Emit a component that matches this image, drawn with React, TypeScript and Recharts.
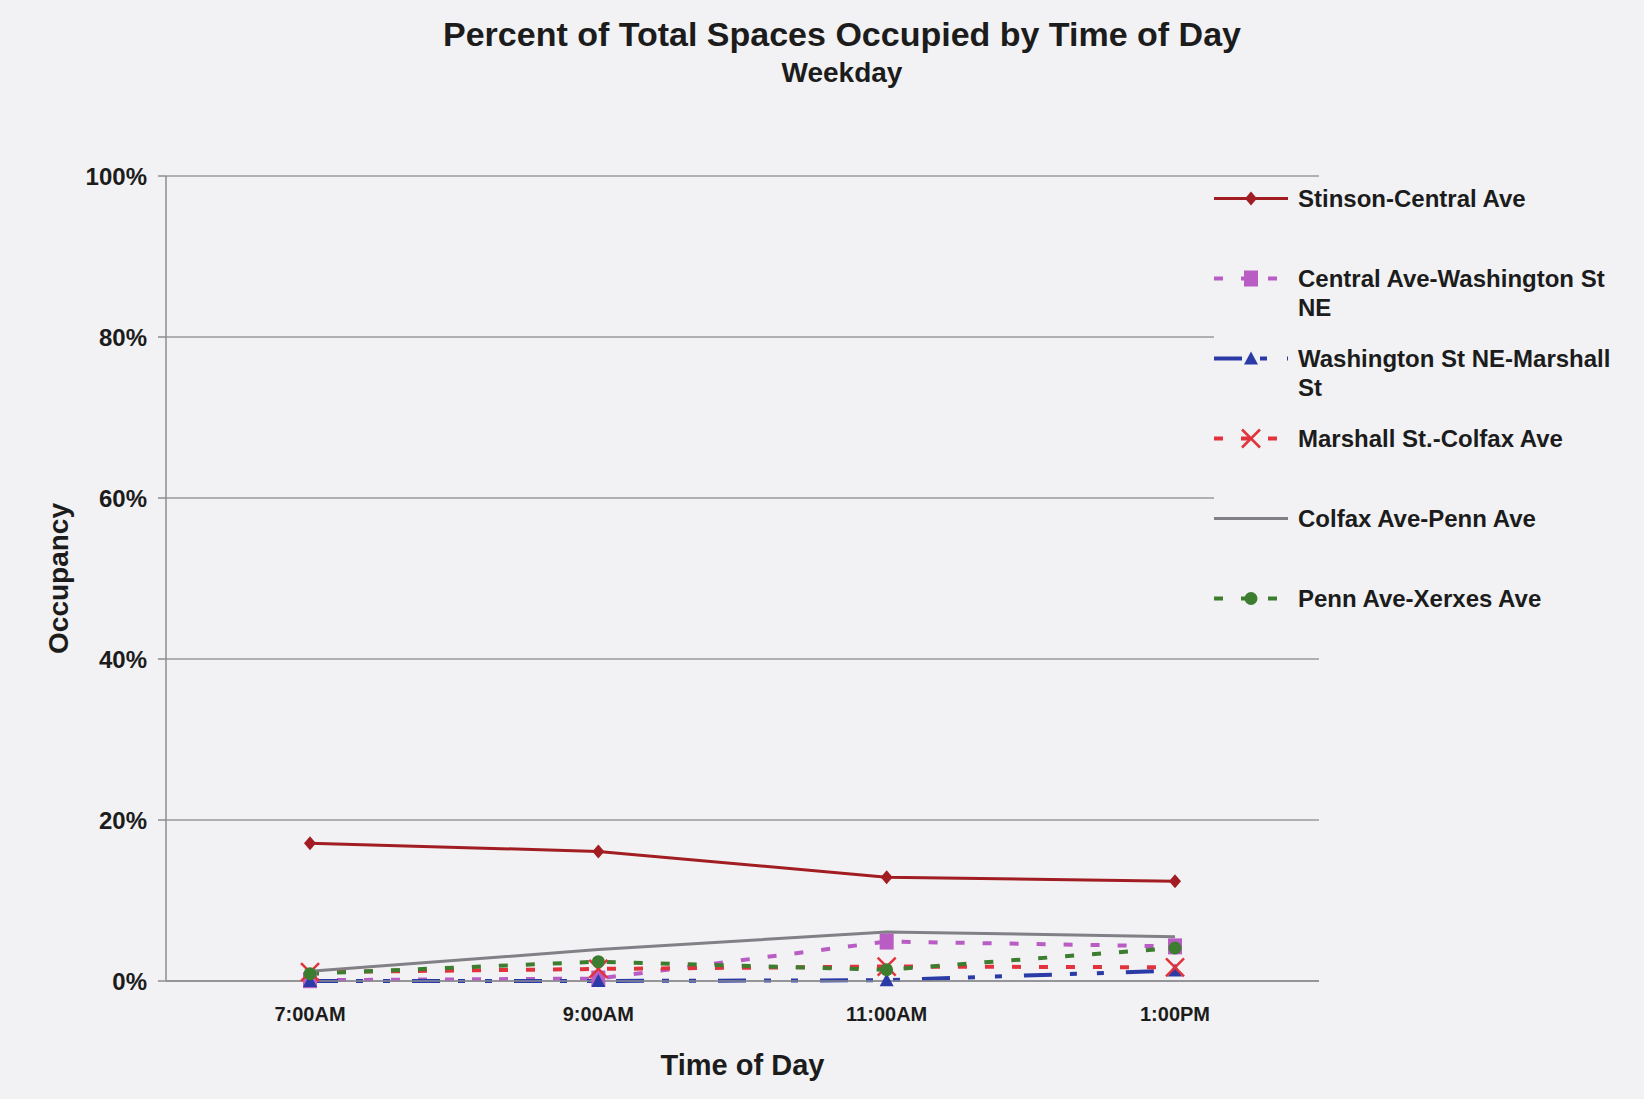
import { LineChart, Line, XAxis, YAxis, CartesianGrid, Legend, Label } from "recharts";

const times = ["7:00AM", "9:00AM", "11:00AM", "1:00PM"];
const stinsonCentral = [17.1, 16.1, 12.9, 12.4];
const centralWashington = [0.1, 0.3, 4.9, 4.3];
const washingtonMarshall = [0, 0, 0.1, 1.3];
const marshallColfax = [1.1, 1.5, 1.8, 1.7];
const colfaxPenn = [1.2, 3.9, 6.1, 5.5];
const pennXerxes = [0.9, 2.4, 1.4, 4.1];
const yTicks = [0, 20, 40, 60, 80, 100];
const edgeTicks = [0, 1, 2, 3, 4];

const chartData = times.map((time, i) => ({
  time,
  stinson: stinsonCentral[i],
  centralWash: centralWashington[i],
  washMarshall: washingtonMarshall[i],
  marshallColfax: marshallColfax[i],
  colfaxPenn: colfaxPenn[i],
  pennXerxes: pennXerxes[i],
}));

type MarkerKind = "diamond" | "square" | "triangle" | "cross" | "circle" | "none";

const series: {
  key: string;
  name: string;
  color: string;
  width: number;
  dash?: string;
  marker: MarkerKind;
}[] = [
  { key: "stinson", name: "Stinson-Central Ave", color: "#a11d22", width: 3, marker: "diamond" },
  { key: "centralWash", name: "Central Ave-Washington St NE", color: "#b95cc4", width: 4, dash: "9 18", marker: "square" },
  { key: "washMarshall", name: "Washington St NE-Marshall St", color: "#2a3aa6", width: 4, dash: "28 18 7 20 7 22", marker: "triangle" },
  { key: "marshallColfax", name: "Marshall St.-Colfax Ave", color: "#e2333c", width: 4, dash: "9 18", marker: "cross" },
  { key: "colfaxPenn", name: "Colfax Ave-Penn Ave", color: "#808086", width: 3, marker: "none" },
  { key: "pennXerxes", name: "Penn Ave-Xerxes Ave", color: "#3d7d30", width: 4, dash: "9 18", marker: "circle" },
];

const FONT = '"Liberation Sans", Arial, Helvetica, sans-serif';
const TEXT = "#1c1c1c";
const BG = "#f2f2f4";
const AXIS = "#8c8c90";

function Marker({ kind, cx, cy, color }: { kind: MarkerKind; cx: number; cy: number; color: string }) {
  switch (kind) {
    case "diamond":
      return <path d={`M${cx} ${cy - 7}L${cx + 6} ${cy}L${cx} ${cy + 7}L${cx - 6} ${cy}Z`} fill={color} />;
    case "square":
      return <rect x={cx - 7} y={cy - 8} width={14} height={16} fill={color} />;
    case "triangle":
      return <path d={`M${cx} ${cy - 7}L${cx + 7} ${cy + 6}L${cx - 7} ${cy + 6}Z`} fill={color} />;
    case "cross":
      return (
        <path
          d={`M${cx - 9} ${cy - 9}L${cx + 9} ${cy + 9}M${cx + 9} ${cy - 9}L${cx - 9} ${cy + 9}`}
          stroke={color}
          strokeWidth={2.5}
        />
      );
    case "circle":
      return <circle cx={cx} cy={cy} r={6.5} fill={color} />;
    default:
      return null;
  }
}

const LegendBox = () => (
  <div style={{ background: BG, width: 430, height: 440, fontFamily: FONT }}>
    {series.map((s) => (
      <div key={s.key} style={{ display: "flex", height: 80, alignItems: "flex-start" }}>
        <svg width={84} height={29} style={{ flex: "none" }}>
          <line x1={0} y1={14.5} x2={74} y2={14.5} stroke={s.color} strokeWidth={s.width} strokeDasharray={s.dash} />
          <Marker kind={s.marker} cx={37} cy={14.5} color={s.color} />
        </svg>
        <div
          style={{
            width: 322,
            fontSize: 24,
            lineHeight: "29px",
            fontWeight: 700,
            color: TEXT,
          }}
        >
          {s.name}
        </div>
      </div>
    ))}
  </div>
);

export default function App() {
  return (
    <div
      style={{
        position: "absolute",
        left: 0,
        top: 0,
        width: 1644,
        height: 1099,
        background: BG,
        fontFamily: FONT,
        color: TEXT,
      }}
    >
      <div
        style={{
          position: "absolute",
          left: 0,
          width: 1684,
          top: 14,
          textAlign: "center",
          fontSize: 34,
          fontWeight: 700,
          lineHeight: "40px",
        }}
      >
        Percent of Total Spaces Occupied by Time of Day
      </div>
      <div
        style={{
          position: "absolute",
          left: 0,
          width: 1684,
          top: 56,
          textAlign: "center",
          fontSize: 28,
          fontWeight: 700,
          lineHeight: "34px",
        }}
      >
        Weekday
      </div>
      <LineChart
        width={1644}
        height={1099}
        data={chartData}
        margin={{ top: 176, right: 325, bottom: 18, left: 36 }}
      >
        <CartesianGrid vertical={false} stroke="#9a9a9e" strokeWidth={1.5} />
        <XAxis
          xAxisId="edge"
          type="number"
          domain={[0, 4]}
          ticks={edgeTicks}
          tick={false}
          height={0}
          axisLine={false}
          tickLine={{ stroke: AXIS, strokeWidth: 1.5 }}
          tickSize={8}
        />
        <XAxis
          dataKey="time"
          height={100}
          padding={{ left: 144, right: 144 }}
          axisLine={{ stroke: AXIS, strokeWidth: 1.5 }}
          tickLine={false}
          tickSize={6}
          tickMargin={20}
          tick={{ fill: TEXT, fontSize: 20, fontWeight: 700, fontFamily: FONT }}
        >
          <Label
            value="Time of Day"
            position="insideBottom"
            offset={6}
            style={{ fill: TEXT, fontSize: 29, fontWeight: 700, fontFamily: FONT }}
          />
        </XAxis>
        <YAxis
          width={130}
          domain={[0, 100]}
          ticks={yTicks}
          tickFormatter={(v: number) => `${v}%`}
          axisLine={{ stroke: AXIS, strokeWidth: 1.5 }}
          tickLine={{ stroke: AXIS, strokeWidth: 1.5 }}
          tickSize={8}
          tickMargin={11}
          tick={{ fill: TEXT, fontSize: 24, fontWeight: 700, fontFamily: FONT }}
        >
          <Label
            value="Occupancy"
            angle={-90}
            position="insideLeft"
            offset={22}
            style={{ fill: TEXT, fontSize: 28, fontWeight: 700, fontFamily: FONT, textAnchor: "middle" }}
          />
        </YAxis>
        <Legend
          layout="horizontal"
          verticalAlign="middle"
          align="center"
          content={<LegendBox />}
          wrapperStyle={{ top: 184, left: 1214, width: 430 }}
        />
        {series.map((s) => (
          <Line
            key={s.key}
            dataKey={s.key}
            name={s.name}
            type="linear"
            stroke={s.color}
            strokeWidth={s.width}
            strokeDasharray={s.dash}
            isAnimationActive={false}
            dot={(p: any) => <Marker key={`${s.key}-${p.index}`} kind={s.marker} cx={p.cx} cy={p.cy} color={s.color} />}
            activeDot={false}
          />
        ))}
      </LineChart>
    </div>
  );
}
